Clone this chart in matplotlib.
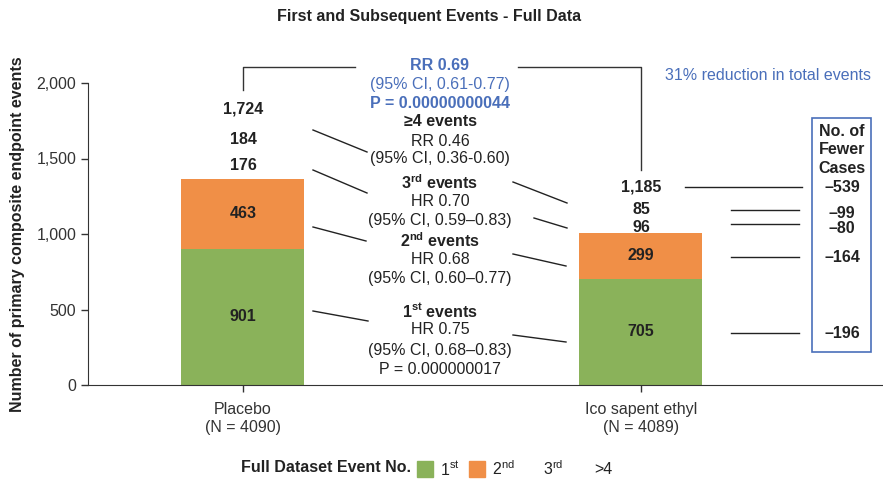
import matplotlib.pyplot as plt

plt.rcParams['font.family'] = ['Liberation Sans', 'DejaVu Sans']

groups = ['Placebo\n(N = 4090)', 'Ico sapent ethyl\n(N = 4089)']
first = [901, 705]
second = [463, 299]
third = [176, 96]
fourth = [184, 85]
total = [1724, 1185]
fewer = ['\u2013539', '\u201399', '\u201380', '\u2013164', '\u2013196']

green = '#8AB25A'
orange = '#F08F47'
blue = '#4A6FBA'
ink = '#222222'
fs = 11.5

W, H = 883, 479
fig = plt.figure(figsize=(W / 100, H / 100), dpi=100)
ax = fig.add_axes([88 / W, (H - 385) / H, (W - 88) / W, 302 / H])


def P(x, y):
    # pixel position -> figure fraction
    return (x / W, 1 - y / H)


x = [0, 1]
ax.bar(x, first, width=0.309, color=green, zorder=2)
ax.bar(x, second, width=0.309, bottom=first, color=orange, zorder=2)
ax.set_xlim(-0.389, 1.608)
ax.set_ylim(0, 2000)
ax.set_yticks([0, 500, 1000, 1500, 2000])
ax.set_yticklabels(['0', '500', '1,000', '1,500', '2,000'])
ax.set_xticks(x)
ax.set_xticklabels(groups, linespacing=1.3)
ax.tick_params(labelsize=fs, colors='#333333', length=5, width=1)
ax.tick_params(axis='x', pad=7)
for s in ['top', 'right']:
    ax.spines[s].set_visible(False)
for s in ['left', 'bottom']:
    ax.spines[s].set_color('#333333')
ax.set_ylabel('Number of primary composite endpoint events', fontsize=fs,
              fontweight='bold', color=ink, labelpad=8)

# segment labels
for i in range(2):
    ax.text(x[i], first[i] / 2, str(first[i]), ha='center', va='center',
            fontsize=fs, fontweight='bold', color=ink)
    ax.text(x[i], first[i] + second[i] / 2, str(second[i]), ha='center',
            va='center', fontsize=fs, fontweight='bold', color=ink)

# labels above bars
above = [(243, [(165, third[0]), (139, fourth[0]), (109, total[0])]),
         (641, [(228, third[1]), (210, fourth[1]), (187, total[1])])]
for px, items in above:
    for py, v in items:
        fig.text(*P(px, py), f'{v:,}', ha='center', va='center', fontsize=fs,
                 fontweight='bold', color=ink)

fig.text(*P(429, 17), 'First and Subsequent Events - Full Data', ha='center',
         va='center', fontsize=fs, fontweight='bold', color=ink)


def line(pts, color='#333333', lw=1):
    xs = [p[0] / W for p in pts]
    ys = [1 - p[1] / H for p in pts]
    fig.add_artist(plt.Line2D(xs, ys, color=color, lw=lw, transform=fig.transFigure))


# bracket
line([(243, 90), (243, 67), (355, 67)])
line([(518, 67), (641, 67), (641, 170)])

# centre annotation text
cx = 440
centre = [
    (65, 'RR 0.69', blue, 'bold'),
    (84, '(95% CI, 0.61-0.77)', blue, 'normal'),
    (103, 'P = 0.00000000044', blue, 'bold'),
    (122, '\u22654 events', ink, 'bold'),
    (141, 'RR 0.46', ink, 'normal'),
    (159, '(95% CI, 0.36-0.60)', ink, 'normal'),
    (183, '3$^{\\mathregular{rd}}$ events', ink, 'bold'),
    (202, 'HR 0.70', ink, 'normal'),
    (221, '(95% CI, 0.59\u20130.83)', ink, 'normal'),
    (241, '2$^{\\mathregular{nd}}$ events', ink, 'bold'),
    (260, 'HR 0.68', ink, 'normal'),
    (279, '(95% CI, 0.60\u20130.77)', ink, 'normal'),
    (311, '1$^{\\mathregular{st}}$ events', ink, 'bold'),
    (330, 'HR 0.75', ink, 'normal'),
    (350, '(95% CI, 0.68\u20130.83)', ink, 'normal'),
    (369, 'P = 0.000000017', ink, 'normal'),
]
for py, t, c, w in centre:
    fig.text(*P(cx, py), t, ha='center', va='center', fontsize=fs, color=c,
             fontweight=w)

# connector lines
for seg in [((313, 130), (367, 152)), ((313, 170), (367, 193)),
            ((313, 227), (366, 241)), ((313, 311), (368, 321)),
            ((513, 182), (567, 203)), ((534, 218), (567, 228)),
            ((513, 254), (566, 266)), ((513, 335), (566, 342))]:
    line(list(seg), color=ink)

# lines to fewer cases box
line([(685, 187), (802, 187)], color=ink)
for py in [210, 224, 257, 333]:
    line([(731, py), (799, py)], color=ink)

# fewer cases box
box = plt.Rectangle(P(812, 352), (871 - 812) / W, (352 - 118) / H,
                    transform=fig.transFigure, fill=False, edgecolor=blue, lw=1.2)
fig.add_artist(box)
fig.text(*P(842, 150), 'No. of\nFewer\nCases', ha='center', va='center',
         fontsize=fs, fontweight='bold', color=ink, linespacing=1.3)
for py, t in zip([187, 213, 229, 257, 333], fewer):
    fig.text(*P(842, py), t, ha='center', va='center', fontsize=fs,
             fontweight='bold', color=ink)

fig.text(*P(768, 75), '31% reduction in total events', ha='center', va='center',
         fontsize=fs, color=blue)

# legend row
fig.text(*P(241, 468), 'Full Dataset Event No.', ha='left', va='center',
         fontsize=fs, fontweight='bold', color=ink)
for x0, c in [(417, green), (469, orange)]:
    fig.add_artist(plt.Rectangle(P(x0, 477), 16 / W, 16 / H,
                                 transform=fig.transFigure, color=c))
for x0, t in [(440, '1$^{\\mathregular{st}}$'), (492, '2$^{\\mathregular{nd}}$'),
              (543, '3$^{\\mathregular{rd}}$'), (594, '>4')]:
    fig.text(*P(x0, 469), t, ha='left', va='center', fontsize=fs, color=ink)

fig.savefig('out.png', dpi=100)
